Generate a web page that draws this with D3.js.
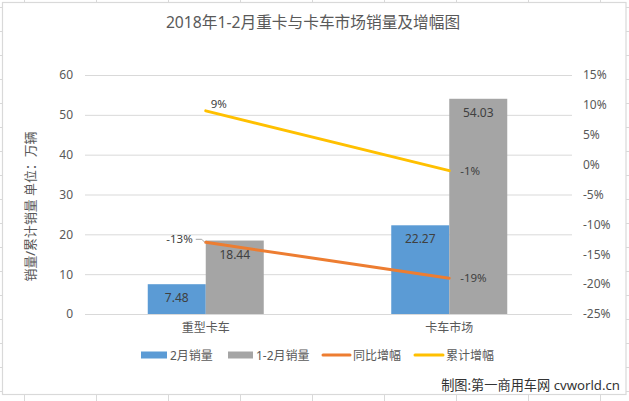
<!DOCTYPE html>
<html><head><meta charset="utf-8">
<script src="https://cdn.jsdelivr.net/npm/d3@7"></script>
<style>
html,body{margin:0;padding:0;background:#fff}
svg{display:block}
text{font-family:"Noto Sans","Noto Sans CJK SC",sans-serif}
</style></head><body>
<svg id="c" width="629" height="401"></svg>
<script>
const categories = ["重型卡车","卡车市场"];
const febSales = [7.48,22.27];
const cumSales = [18.44,54.03];
const yoyGrowth = [-13,-19];
const cumGrowth = [9,-1];
const leftTicks = [0,10,20,30,40,50,60];
const rightTicks = [-25,-20,-15,-10,-5,0,5,10,15];
const title = "2018年1-2月重卡与卡车市场销量及增幅图";
const yTitle = "销量/累计销量 单位：万辆";
const credit = "制图:第一商用车网 cvworld.cn";
const legendItems = [
 {name:"2月销量",color:"#5b9bd5",type:"bar",x:141,w:26},
 {name:"1-2月销量",color:"#a5a5a5",type:"bar",x:228,w:25},
 {name:"同比增幅",color:"#ed7d31",type:"line",x:323,w:27},
 {name:"累计增幅",color:"#ffc000",type:"line",x:415,w:28}
];

const svg = d3.select("#c");
const frame = "#d9d9d9", grid = "#d9d9d9", txt = "#595959", dark = "#404040";

// worksheet cell ticks around the chart frame
const sheet = svg.append("g").attr("stroke",frame).attr("stroke-width",1);
d3.range(24.5,629,72).forEach(x=>{
  sheet.append("line").attr("x1",x).attr("x2",x).attr("y1",0).attr("y2",3);
  sheet.append("line").attr("x1",x).attr("x2",x).attr("y1",395).attr("y2",401);
});
d3.range(7.5,401,24).forEach(y=>{
  sheet.append("line").attr("x1",0).attr("x2",3).attr("y1",y).attr("y2",y);
  sheet.append("line").attr("x1",626).attr("x2",629).attr("y1",y).attr("y2",y);
});
svg.append("rect").attr("x",2.5).attr("y",2.5).attr("width",623.5).attr("height",392)
  .attr("fill","#fff").attr("stroke",frame).attr("stroke-width",1.2);

const L=85,R=572,T=75,B=314;
const x = d3.scaleBand().domain(categories).range([L-1,R-1]);
const barW = 58;
const inner = d3.scaleOrdinal().domain(["feb","cum"]).range([-barW,0]);
const y = d3.scaleLinear().domain([0,60]).range([B,T]);
const y2 = d3.scaleLinear().domain([-25,15]).range([B,T]);
const cx = c => x(c)+x.bandwidth()/2;

// gridlines
svg.append("g").selectAll("line").data(leftTicks).join("line")
  .attr("x1",L).attr("x2",R).attr("y1",d=>y(d)+.5).attr("y2",d=>y(d)+.5)
  .attr("stroke",grid).attr("stroke-width",1);

// axes
const axL = svg.append("g").attr("transform",`translate(${L},0)`)
  .call(d3.axisLeft(y).tickValues(leftTicks).tickSize(0).tickPadding(12));
const axR = svg.append("g").attr("transform",`translate(${R},0)`)
  .call(d3.axisRight(y2).tickValues(rightTicks).tickFormat(d=>d+"%").tickSize(0).tickPadding(11));
const axB = svg.append("g").attr("transform",`translate(0,${B})`)
  .call(d3.axisBottom(x).tickSize(0).tickPadding(9));
[axL,axR,axB].forEach(a=>{
  a.select(".domain").remove();
  a.selectAll("text").attr("fill",txt).style("font-size","12px")
   .style("font-family",'"Noto Sans","Noto Sans CJK SC",sans-serif');
});

// bars
const bars = [["feb",febSales,"#5b9bd5"],["cum",cumSales,"#a5a5a5"]];
bars.forEach(([k,vals,col])=>{
  svg.append("g").selectAll("rect").data(categories).join("rect")
    .attr("x",c=>cx(c)+inner(k)).attr("width",barW)
    .attr("y",(c,i)=>y(vals[i])).attr("height",(c,i)=>y(0)-y(vals[i]))
    .attr("fill",col);
  svg.append("g").selectAll("text").data(categories).join("text")
    .attr("x",c=>cx(c)+inner(k)+barW/2)
    .attr("y",(c,i)=>y(vals[i])+18)
    .attr("text-anchor","middle").attr("fill",dark).style("font-size","12px")
    .text((c,i)=>vals[i].toFixed(2));
});

// lines
const line = d3.line().x(d=>cx(d.c)).y(d=>y2(d.v));
[[yoyGrowth,"#ed7d31"],[cumGrowth,"#ffc000"]].forEach(([vals,col])=>{
  svg.append("path").datum(categories.map((c,i)=>({c,v:vals[i]})))
    .attr("d",line).attr("fill","none").attr("stroke",col)
    .attr("stroke-width",3).attr("stroke-linecap","round");
});

// line labels
const lab = (xx,yy,t)=>svg.append("text").attr("x",xx).attr("y",yy).attr("fill",dark)
  .style("font-size","11.5px").text(t);
lab(cx(categories[0])+5,y2(cumGrowth[0])-3,cumGrowth[0]+"%");
lab(cx(categories[1])+11,y2(cumGrowth[1])+4,cumGrowth[1]+"%");
lab(cx(categories[1])+11,y2(yoyGrowth[1])+4,yoyGrowth[1]+"%");
svg.append("text").attr("x",cx(categories[0])-13).attr("y",y2(yoyGrowth[0])+1)
  .attr("text-anchor","end").attr("fill",dark).style("font-size","11.5px").text(yoyGrowth[0]+"%");
// leader line for the -13% label
svg.append("path").attr("fill","none").attr("stroke","#a6a6a6").attr("stroke-width",1)
  .attr("d",d3.line()([[cx(categories[0])-10,y2(yoyGrowth[0])-3],[cx(categories[0])-4,y2(yoyGrowth[0])-3],[cx(categories[0])-1,y2(yoyGrowth[0])]]));

// title
svg.append("text").attr("x",313).attr("y",27.5).attr("text-anchor","middle")
  .attr("fill",txt).style("font-size","15.7px").text(title);

// y axis title
svg.append("text").attr("transform","translate(35,206.5) rotate(-90)")
  .attr("text-anchor","middle").attr("fill",txt).style("font-size","12.9px").text(yTitle);

// legend
const lg = svg.append("g").selectAll("g").data(legendItems).join("g");
lg.filter(d=>d.type==="bar").append("rect")
  .attr("x",d=>d.x).attr("y",351.5).attr("width",d=>d.w).attr("height",7).attr("fill",d=>d.color);
lg.filter(d=>d.type==="line").append("line")
  .attr("x1",d=>d.x).attr("x2",d=>d.x+d.w).attr("y1",355).attr("y2",355)
  .attr("stroke",d=>d.color).attr("stroke-width",3).attr("stroke-linecap","round");
lg.append("text").attr("x",d=>d.x+d.w+3).attr("y",359.5).attr("fill",txt)
  .style("font-size","12px").text(d=>d.name);

// credit
svg.append("text").attr("x",620).attr("y",390).attr("text-anchor","end")
  .attr("fill","#333").style("font-size","13.2px").text(credit);
</script>
</body></html>
